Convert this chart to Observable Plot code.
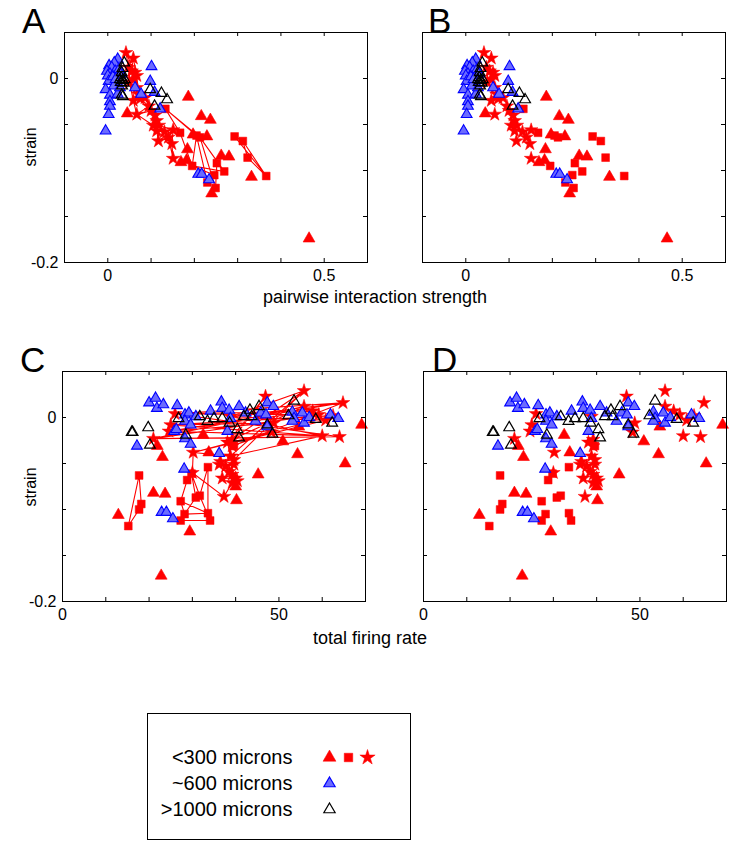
<!DOCTYPE html>
<html>
<head>
<meta charset="utf-8">
<script src="https://cdn.jsdelivr.net/npm/d3@7"></script>
<script src="https://cdn.jsdelivr.net/npm/@observablehq/plot@0.6"></script>
<style>
  body { margin: 0; background: #fff; font-family: "Liberation Sans", Arial, sans-serif; }
  #root { position: relative; width: 733px; height: 853px; overflow: hidden; background: #fff; }
  .t { position: absolute; line-height: 1; white-space: nowrap; color: #000; }
  .letter { font-size: 35px; }
  .xlab { font-size: 18px; transform: translate(-50%, -50%); }
  .ylab { font-size: 16px; transform: translate(-50%, -50%) rotate(-90deg); }
  svg { position: absolute; overflow: visible; }
</style>
</head>
<body>
<div id="root"></div>
<script>
// ---------------- DATA ----------------
// Panels A/B : x = pairwise interaction strength, y = strain
const abRedTri = [[0.186,-0.020],[0.216,-0.041],[0.237,-0.045],[0.045,-0.038],[0.184,-0.077],[0.229,-0.063],[0.197,-0.061],[0.262,-0.084],[0.280,-0.085],[0.169,-0.091],[0.182,-0.089],[0.332,-0.107],[0.240,-0.125],[0.465,-0.174]];
const abRedSq = [[0.133,-0.033],[0.167,-0.059],[0.205,-0.062],[0.213,-0.064],[0.195,-0.095],[0.252,-0.092],[0.269,-0.101],[0.246,-0.105],[0.230,-0.113],[0.249,-0.119],[0.293,-0.063],[0.312,-0.068],[0.323,-0.086],[0.366,-0.106]];
const abRedStar = [[0.042,0.028],[0.059,0.022],[0.048,0.012],[0.055,0.008],[0.063,0.0065],[0.067,0.003],[0.059,-0.001],[0.050,-0.004],[0.067,-0.010],[0.071,-0.017],[0.059,-0.024],[0.075,-0.022],[0.086,-0.021],[0.067,-0.039],[0.109,-0.040],[0.113,-0.046],[0.105,-0.051],[0.118,-0.051],[0.113,-0.057],[0.131,-0.058],[0.151,-0.056],[0.117,-0.068],[0.140,-0.064],[0.148,-0.071],[0.151,-0.087],[0.095,-0.030],[0.100,-0.035]];
const abBlue = [[0.023,0.021],[0.015,0.017],[0.003,0.014],[0.009,0.012],[-0.002,0.008],[0.005,0.005],[0.017,0.008],[0.000,0.003],[0.009,-0.001],[0.002,-0.003],[0.021,-0.004],[0.012,0.002],[0.026,0.010],[0.014,-0.008],[-0.005,-0.012],[0.005,-0.018],[0.023,-0.017],[0.005,-0.025],[0.005,-0.030],[0.002,-0.039],[-0.005,-0.057],[0.101,0.013],[0.098,-0.003],[0.063,-0.010],[0.077,-0.017],[0.108,-0.015],[0.121,-0.033],[0.209,-0.104],[0.217,-0.104],[0.234,-0.110],[0.030,0.005],[0.018,-0.001],[0.028,-0.010]];
const abBlack = [[0.038,0.017],[0.034,0.011],[0.032,0.0065],[0.031,0.001],[0.035,-0.002],[0.030,-0.004],[0.037,-0.005],[0.033,-0.008],[0.028,-0.001],[0.039,-0.001],[0.035,-0.0195],[0.032,-0.018],[0.098,-0.012],[0.124,-0.016],[0.137,-0.023],[0.108,-0.030]];
// visiting order of the connected recordings (panel A)
const abStarPath = [0,2,1,3,5,4,6,8,7,9,11,10,12,25,13,26,14,16,15,17,19,18,21,20,22,24,23,19,15,26,12,9,5,1,3,8,11,25,14,17,22,21,18,16,13,10,7,2,0,4,9,12,14,18,23,20,17,15,25,11,6,3];
const abSqPathMid = [0,2,8,7,4,1,0,3,6,5,9,3,2,4,6];
const abSqPathRight = [10,13,11,12,13,10,11];

// Panels C/D : x = total firing rate, y = strain
const cdRedTri = [[12.9,-0.106],[21.0,-0.082],[23.7,-0.083],[29.4,-0.124],[22.8,-0.172],[21.9,-0.031],[23.1,-0.043],[32.5,-0.019],[33.8,-0.038],[40.0,-0.075],[40.2,-0.090],[45.2,-0.062],[50.9,-0.026],[54.3,-0.040],[65.3,-0.050],[69.1,-0.008],[54.6,-0.010]];
const cdRedSq = [[17.7,-0.063],[15.2,-0.118],[17.7,-0.100],[18.2,-0.094],[28.8,-0.068],[29.8,-0.061],[27.3,-0.091],[28.2,-0.105],[27.3,-0.112],[30.8,-0.087],[31.7,-0.085],[33.6,-0.054],[33.6,-0.104],[34.1,-0.112],[39.6,-0.031]];
const cdRedStar = [[21.0,-0.023],[24.6,-0.015],[25.0,-0.008],[26.0,0.004],[30.2,-0.038],[30.0,-0.060],[36.5,-0.048],[36.9,-0.066],[37.3,-0.086],[37.7,-0.053],[38.5,-0.059],[39.2,-0.062],[40.0,-0.066],[39.6,-0.051],[38.8,-0.042],[39.2,-0.031],[39.2,-0.024],[40.4,-0.069],[39.2,-0.071],[38.1,-0.027],[36.2,-0.051],[39.6,-0.046],[38.8,0.001],[46.9,0.023],[48.8,-0.006],[48.3,-0.016],[55.8,0.029],[55.8,0.012],[57.8,0.007],[59.2,0.003],[60.0,-0.020],[60.8,-0.003],[64.0,-0.021],[64.8,0.016],[62.5,0.002]];
const cdBlue = [[20.0,0.016],[21.5,0.021],[21.8,0.010],[23.3,0.014],[17.2,-0.031],[26.5,0.013],[25.8,-0.015],[26.3,-0.013],[28.3,-0.023],[29.6,-0.029],[28.1,-0.056],[22.9,-0.103],[24.0,-0.103],[25.5,-0.110],[36.2,-0.039],[38.1,-0.015],[28.3,0.003],[29.2,0.005],[30.8,0.001],[28.3,-0.004],[29.6,-0.008],[34.2,0.007],[36.7,0.017],[36.9,0.010],[38.5,0.008],[38.8,-0.001],[40.8,0.012],[42.3,0.005],[44.6,-0.004],[45.8,0.005],[47.0,0.003],[47.3,0.016],[48.7,0.012],[47.3,-0.010],[53.1,0.006],[53.5,-0.001],[53.1,-0.004],[55.4,0.005],[55.8,-0.006],[57.0,0.000],[61.9,0.003],[63.7,-0.001]];
const cdBlack = [[16.2,-0.016],[16.0,-0.016],[19.8,-0.011],[20.2,-0.030],[26.8,-0.001],[28.5,-0.019],[31.7,0.001],[33.5,-0.004],[35.0,-0.001],[36.9,-0.001],[38.6,-0.006],[40.4,-0.013],[40.8,-0.022],[41.9,0.001],[43.3,0.008],[43.7,0.001],[45.4,0.012],[47.3,-0.008],[48.5,-0.018],[52.2,0.002],[53.5,0.018],[58.5,-0.002],[62.3,-0.006]];
// visiting order of the connected recordings (panel C)
const cdStarPath = [0,32,3,33,1,30,2,34,4,31,22,26,19,23,16,27,0,29,3,28,1,24,2,25,15,33,22,30,14,26,21,6,20,9,13,10,11,7,12,17,18,8,5,4,14,19,16,15];
const cdSqPathLeft = [1,0,3,2,1,0];
const cdSqPathMid = [4,6,7,12,13,8,7,9,5,10,11,12,6,4,5,9,10,13];

// axes
const yDomain = [-0.2, 0.05];
const yTicks = [-0.15, -0.1, -0.05, 0];
const yLabels = [-0.2, 0];
const pairDomain = [-0.1, 0.6];
const pairTicks = [0, 0.1, 0.2, 0.3, 0.4, 0.5];
const pairLabels = [0, 0.5];
const rateDomain = [0, 70];
const rateTicks = [10, 20, 30, 40, 50, 60];
const rateLabels = [0, 50];

// legend
const legendLabels = ["<300 microns", "~600 microns", ">1000 microns"];
const legendMarkers = [
  {label: "<300 microns", col: 0, symbol: "triangle", kind: "red"},
  {label: "<300 microns", col: 1, symbol: "square", kind: "red"},
  {label: "<300 microns", col: 2, symbol: "star", kind: "red"},
  {label: "~600 microns", col: 0, symbol: "triangle", kind: "blue"},
  {label: ">1000 microns", col: 0, symbol: "triangle", kind: "black"}
];

// ---------------- STYLE ----------------
const RED = "#ff0000", BLUE = "#0000ff", BLUEFILL = "#6b6bff";
const FONT = "'Liberation Sans', Arial, sans-serif";
const W = 303, H = 230;
const mL = 46, mR = 8, mT = 6, mB = 26;

const root = document.getElementById("root");

function pts(arr) { return arr.map(([x, y]) => ({x, y})); }
function path(arr, order, g) { return order.map(i => ({x: arr[i][0], y: arr[i][1], g})); }

function dotMarks(tri, sq, star, blue, black) {
  return [
    Plot.dot(pts(tri), {x: "x", y: "y", symbol: "triangle", r: 4.4, fill: RED, stroke: RED, strokeWidth: 0.6}),
    Plot.dot(pts(sq), {x: "x", y: "y", symbol: "square", r: 4.4, fill: RED, stroke: RED, strokeWidth: 0.5}),
    Plot.dot(pts(star), {x: "x", y: "y", symbol: "star", r: 4.3, fill: RED, stroke: RED, strokeWidth: 0.5}),
    Plot.dot(pts(blue), {x: "x", y: "y", symbol: "triangle", r: 4.0, fill: BLUEFILL, stroke: BLUE, strokeWidth: 1.1}),
    Plot.dot(pts(black), {x: "x", y: "y", symbol: "triangle", r: 4.0, fill: "none", stroke: "#000", strokeWidth: 1.2})
  ];
}

function panel({left, top, xDomain, xTicks, xLabels, showY, lines, dots}) {
  const svg = Plot.plot({
    width: W + mL + mR, height: H + mT + mB,
    marginLeft: mL, marginRight: mR, marginTop: mT, marginBottom: mB,
    style: {fontFamily: FONT, fontSize: "16px", background: "transparent", color: "#000", overflow: "visible"},
    x: {domain: xDomain, ticks: xLabels, tickSize: 0, tickPadding: 7, tickFormat: d => String(d), label: null},
    y: {domain: yDomain, ticks: showY ? yLabels : [], tickSize: 0, tickPadding: 6, tickFormat: d => String(d), label: null, axis: showY ? "left" : null},
    marks: [
      ...lines,
      ...dots,
      Plot.tickX(xTicks, {x: d => d, insetTop: H - 4, stroke: "#000"}),
      Plot.tickX(xTicks, {x: d => d, insetBottom: H - 4, stroke: "#000"}),
      Plot.tickY(yTicks, {y: d => d, insetRight: W - 4, stroke: "#000"}),
      Plot.tickY(yTicks, {y: d => d, insetLeft: W - 4, stroke: "#000"}),
      Plot.frame({stroke: "#000", strokeWidth: 1})
    ]
  });
  svg.style.left = (left - mL) + "px";
  svg.style.top = (top - mT) + "px";
  root.appendChild(svg);
}

// Panel A
panel({
  left: 64, top: 32, xDomain: pairDomain, xTicks: pairTicks, xLabels: pairLabels, showY: true,
  lines: [
    Plot.line([...path(abRedStar, abStarPath, "s"), ...path(abRedSq, abSqPathMid, "q1"), ...path(abRedSq, abSqPathRight, "q2")],
      {x: "x", y: "y", z: "g", stroke: RED, strokeWidth: 1.1, curve: "linear"})
  ],
  dots: dotMarks(abRedTri, abRedSq, abRedStar, abBlue, abBlack)
});
// Panel B
panel({
  left: 422, top: 32, xDomain: pairDomain, xTicks: pairTicks, xLabels: pairLabels, showY: false,
  lines: [],
  dots: dotMarks(abRedTri, abRedSq, abRedStar, abBlue, abBlack)
});
// Panel C
panel({
  left: 62, top: 371, xDomain: rateDomain, xTicks: rateTicks, xLabels: rateLabels, showY: true,
  lines: [
    Plot.line([...path(cdRedStar, cdStarPath, "s"), ...path(cdRedSq, cdSqPathLeft, "q1"), ...path(cdRedSq, cdSqPathMid, "q2")],
      {x: "x", y: "y", z: "g", stroke: RED, strokeWidth: 1.1, curve: "linear"})
  ],
  dots: dotMarks(cdRedTri, cdRedSq, cdRedStar, cdBlue, cdBlack)
});
// Panel D
panel({
  left: 423, top: 371, xDomain: rateDomain, xTicks: rateTicks, xLabels: rateLabels, showY: false,
  lines: [],
  dots: dotMarks(cdRedTri, cdRedSq, cdRedStar, cdBlue, cdBlack)
});

// Text: panel letters and axis titles
function addText(cls, txt, x, y) {
  const d = document.createElement("div");
  d.className = "t " + cls;
  d.textContent = txt;
  d.style.left = x + "px";
  d.style.top = y + "px";
  root.appendChild(d);
}
addText("letter", "A", 22, 3);
addText("letter", "B", 428, 3);
addText("letter", "C", 20, 342);
addText("letter", "D", 432, 342);
addText("xlab", "pairwise interaction strength", 375, 297);
addText("xlab", "total firing rate", 370, 638);
addText("ylab", "strain", 31, 147);
addText("ylab", "strain", 31, 487);

// Legend (drawn with Plot)
const kindFill = {red: RED, blue: BLUEFILL, black: "none"};
const kindStroke = {red: RED, blue: BLUE, black: "#000"};
const legend = Plot.plot({
  width: 265, height: 128, margin: 1,
  style: {fontFamily: FONT, fontSize: "20px", background: "transparent", color: "#000", overflow: "visible"},
  x: {type: "point", domain: [0, 1, 2], range: [173, 231], axis: null},
  y: {type: "point", domain: legendLabels, range: [31, 110], axis: null},
  marks: [
    Plot.frame({stroke: "#000", strokeWidth: 1}),
    Plot.text(legendLabels, {y: d => d, frameAnchor: "left", dx: 145, textAnchor: "end", text: d => d, fill: "#000"}),
    Plot.dot(legendMarkers.filter(d => d.kind === "red"), {x: "col", y: "label", symbol: "symbol", r: 4.8, fill: RED, stroke: RED, strokeWidth: 0.5}),
    Plot.dot(legendMarkers.filter(d => d.kind !== "red"), {x: "col", y: "label", symbol: "symbol", r: 4.2,
      fill: d => kindFill[d.kind], stroke: d => kindStroke[d.kind], strokeWidth: 1.2})
  ]
});
legend.style.left = "146px";
legend.style.top = "712px";
root.appendChild(legend);
</script>
</body>
</html>
